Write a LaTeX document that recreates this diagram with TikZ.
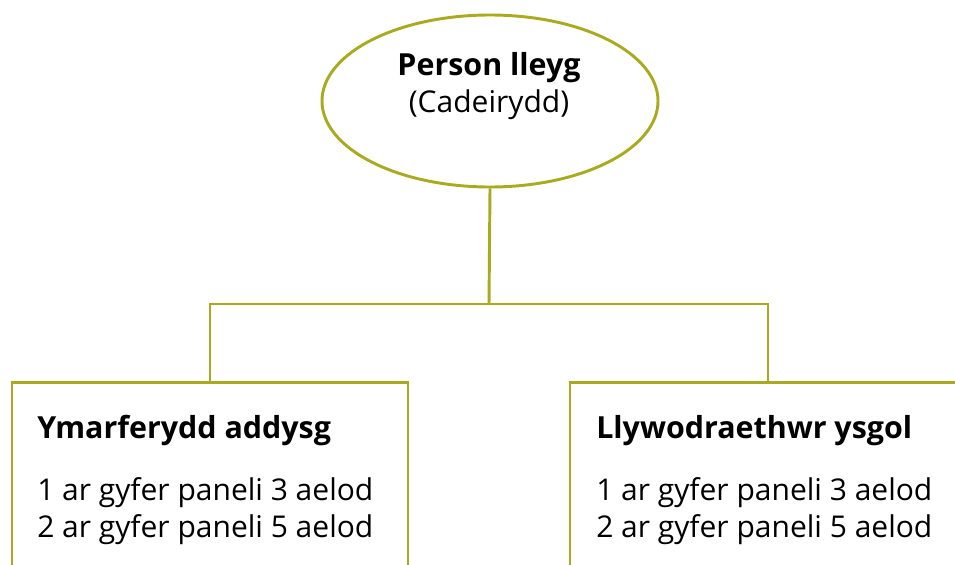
\documentclass[tikz,border=0pt]{standalone}
\usepackage{fontspec}
\setmainfont{Open Sans}
\usetikzlibrary{shapes.geometric}
\definecolor{olive}{RGB}{170,170,32}
\tikzset{
  link/.style={draw=olive, line width=2.2pt},
  chairshape/.style={ellipse, draw=olive, line width=2.2pt, minimum width=252pt, minimum height=129pt, inner sep=0pt},
  memberbox/.style={rectangle, draw=olive, line width=2.2pt, minimum width=297pt, minimum height=200pt, anchor=north, inner sep=0pt},
  title/.style={anchor=base west, font=\fontsize{22.8}{26}\selectfont\bfseries, inner sep=0pt},
  body/.style={anchor=base west, font=\fontsize{22.5}{26}\selectfont, inner sep=0pt},
}
\begin{document}
\begin{tikzpicture}[x=0.75pt,y=-0.75pt]
\useasboundingbox (0,0) rectangle (955,564);
\clip (0,0) rectangle (955,564);
\node[chairshape] (chair) at (490,101) {};
\node[anchor=base, font=\fontsize{22.8}{26}\selectfont\bfseries, inner sep=0pt] (chairname) at (489,75) {Person lleyg};
\node[anchor=base, font=\fontsize{22.5}{26}\selectfont, inner sep=0pt] (chairrole) at (489,112) {(Cadeirydd)};
\node[memberbox] (left) at (210,381) {};
\node[memberbox] (right) at (768,381) {};
\node[title] (lt) at (37,438) {Ymarferydd addysg};
\node[body] (l1) at (37,500) {1 ar gyfer paneli 3 aelod};
\node[body] (l2) at (37,537) {2 ar gyfer paneli 5 aelod};
\node[title] (rt) at (596,438) {Llywodraethwr ysgol};
\node[body] (r1) at (596,500) {1 ar gyfer paneli 3 aelod};
\node[body] (r2) at (596,537) {2 ar gyfer paneli 5 aelod};
\coordinate (hub) at (489,304);
\draw[link] (chair.south) -- (hub);
\draw[link] (left.north) |- (hub) -| (right.north);
\end{tikzpicture}
\end{document}
